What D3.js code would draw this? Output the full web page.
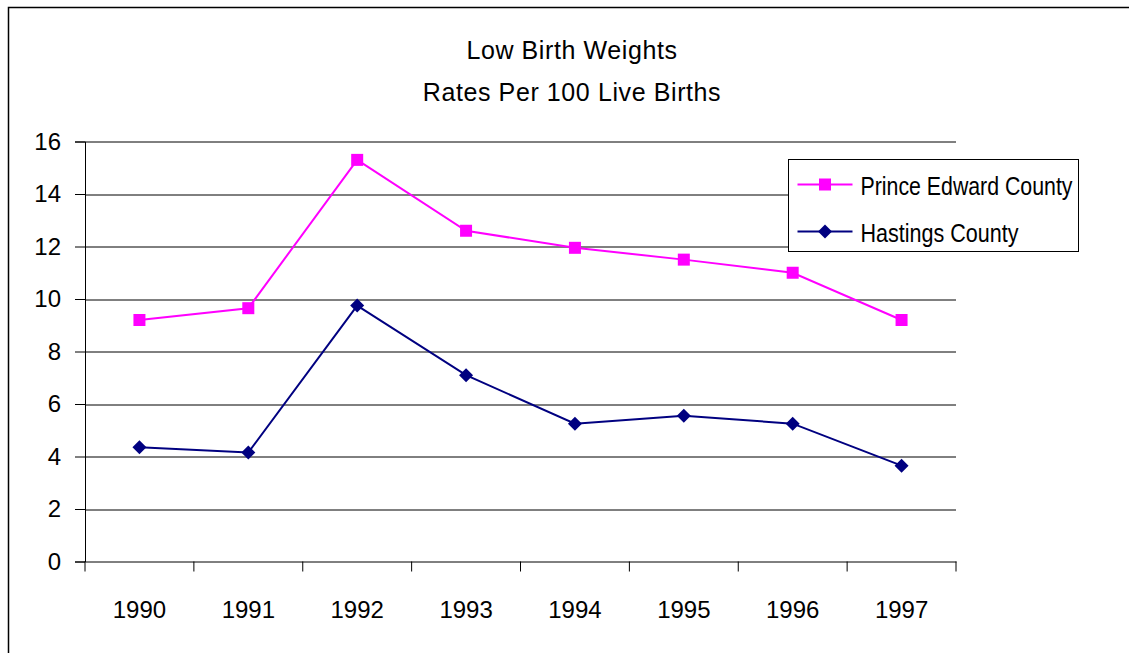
<!DOCTYPE html>
<html>
<head>
<meta charset="utf-8">
<script src="https://cdn.jsdelivr.net/npm/d3@7"></script>
<style>
  body { margin: 0; background: #fff; }
  svg { display: block; font-family: "Liberation Sans", Arial, sans-serif; }
  .tick text { fill: #000; }
</style>
</head>
<body>
<svg id="chart" width="1129" height="653"></svg>
<script>
const years = ["1990", "1991", "1992", "1993", "1994", "1995", "1996", "1997"];
const princeEdward = [9.2, 9.65, 15.3, 12.6, 11.95, 11.5, 11.0, 9.2];
const hastings = [4.35, 4.15, 9.75, 7.1, 5.25, 5.55, 5.25, 3.65];
const yTicks = [0, 2, 4, 6, 8, 10, 12, 14, 16];
const titleLines = ["Low Birth Weights", "Rates Per 100 Live Births"];
const seriesNames = ["Prince Edward County", "Hastings County"];

const SVG = d3.select("#chart");
const MARGIN = { top: 141.5, left: 85, right: 173, bottom: 91.5 };
const WIDTH = 1129, HEIGHT = 653;
const INNERWIDTH = WIDTH - MARGIN.left - MARGIN.right;
const INNERHEIGHT = HEIGHT - MARGIN.top - MARGIN.bottom;

// outer frame (only left and top edges show in the picture)
SVG.append("rect")
  .attr("x", 8.5).attr("y", 7.5)
  .attr("width", 1200).attr("height", 700)
  .attr("fill", "none").attr("stroke", "#000").attr("stroke-width", 1.5);

const g = SVG.append("g").attr("transform", "translate(" + MARGIN.left + "," + MARGIN.top + ")");

const xBand = d3.scaleBand().domain(years).range([0, INNERWIDTH]);
const xScale = (d) => xBand(d) + xBand.bandwidth() / 2;
const yScale = d3.scaleLinear().domain([0, 16]).range([INNERHEIGHT, 0]);

// gridlines
g.append("g")
  .selectAll("line")
  .data(yTicks.filter((d) => d > 0))
  .join("line")
  .attr("x1", 0).attr("x2", INNERWIDTH)
  .attr("y1", (d) => Math.round(yScale(d)) + 0.5)
  .attr("y2", (d) => Math.round(yScale(d)) + 0.5)
  .attr("stroke", "#000").attr("stroke-width", 1);

// y axis
const yAxis = g.append("g")
  .call(d3.axisLeft(yScale).tickValues(yTicks).tickSize(10).tickPadding(14));
yAxis.selectAll("text").attr("font-size", 24).attr("font-family", "Liberation Sans, Arial, sans-serif");
yAxis.selectAll("line, path").attr("stroke", "#000");

// x axis, ticks between the categories
const xAxis = g.append("g")
  .attr("transform", "translate(0," + INNERHEIGHT + ")")
  .call(d3.axisBottom(xBand).tickSize(0).tickPadding(39));
xAxis.selectAll("text").attr("font-size", 24).attr("font-family", "Liberation Sans, Arial, sans-serif");
xAxis.select(".domain").attr("stroke", "#000");
xAxis.selectAll(".sep")
  .data(d3.range(years.length + 1))
  .join("line")
  .attr("class", "sep")
  .attr("x1", (i) => i * xBand.step()).attr("x2", (i) => i * xBand.step())
  .attr("y1", 0).attr("y2", 10)
  .attr("stroke", "#000");

const line = d3.line().x((d, i) => xScale(years[i])).y((d) => yScale(d));

// Prince Edward County
g.append("path")
  .datum(princeEdward)
  .attr("d", line)
  .attr("fill", "none").attr("stroke", "#ff00ff").attr("stroke-width", 2);
g.selectAll(".pe")
  .data(princeEdward)
  .join("rect")
  .attr("class", "pe")
  .attr("x", (d, i) => xScale(years[i]) - 6)
  .attr("y", (d) => yScale(d) - 6)
  .attr("width", 12).attr("height", 12)
  .attr("fill", "#ff00ff");

// Hastings County
g.append("path")
  .datum(hastings)
  .attr("d", line)
  .attr("fill", "none").attr("stroke", "#000080").attr("stroke-width", 2);
const diamond = "M0,-7L7,0L0,7L-7,0Z";
g.selectAll(".ha")
  .data(hastings)
  .join("path")
  .attr("class", "ha")
  .attr("d", diamond)
  .attr("transform", (d, i) => "translate(" + xScale(years[i]) + "," + yScale(d) + ")")
  .attr("fill", "#000080");

// title
SVG.selectAll(".title")
  .data(titleLines)
  .join("text")
  .attr("class", "title")
  .attr("x", 572)
  .attr("y", (d, i) => 59 + i * 42)
  .attr("text-anchor", "middle")
  .attr("font-size", 25)
  .attr("letter-spacing", 0.6)
  .text((d) => d);

// legend
const legend = SVG.append("g").attr("transform", "translate(788.5,159.5)");
legend.append("rect")
  .attr("width", 290).attr("height", 92)
  .attr("fill", "#fff").attr("stroke", "#000").attr("stroke-width", 1);
const legendColors = ["#ff00ff", "#000080"];
seriesNames.forEach((name, i) => {
  const ly = 25 + i * 47;
  legend.append("line")
    .attr("x1", 9).attr("x2", 64).attr("y1", ly).attr("y2", ly)
    .attr("stroke", legendColors[i]).attr("stroke-width", 2);
  if (i === 0) {
    legend.append("rect").attr("x", 30.5).attr("y", ly - 6).attr("width", 12).attr("height", 12).attr("fill", legendColors[i]);
  } else {
    legend.append("path").attr("d", diamond).attr("transform", "translate(36.5," + ly + ")").attr("fill", legendColors[i]);
  }
  legend.append("text")
    .attr("x", 72).attr("y", ly + 10)
    .attr("font-size", 25)
    .attr("textLength", i === 0 ? 212 : 158)
    .attr("lengthAdjust", "spacingAndGlyphs")
    .text(name);
});
</script>
</body>
</html>
